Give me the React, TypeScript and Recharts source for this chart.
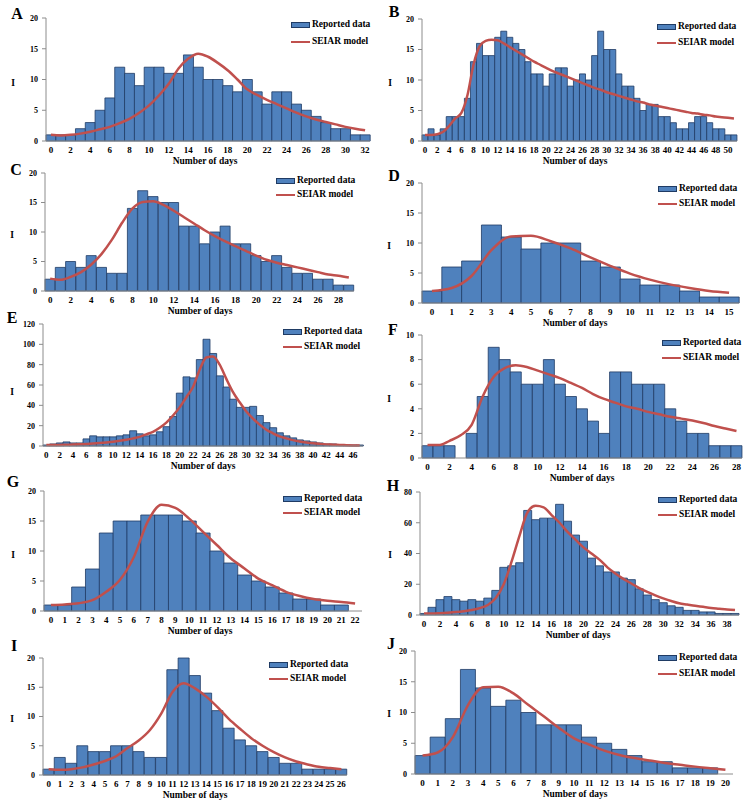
import React from 'react';
import { ComposedChart, Bar, Line, XAxis, YAxis } from 'recharts';

const FONT = "'Liberation Serif','Times New Roman',serif";
const BLUE = '#4f81bd';
const BAR_STROKE = '#1f3b64';
const RED = '#c0504d';
const AXIS = '#8c8c8c';

// Panel A
const daysA = [0,1,2,3,4,5,6,7,8,9,10,11,12,13,14,15,16,17,18,19,20,21,22,23,24,25,26,27,28,29,30,31,32];
const reportedA = [1,1,1,2,3,5,7,12,11,9,12,12,11,11,14,12,10,10,9,8,10,8,6,8,8,6,5,4,3,2,2,1,1];
const modelA = [1,0.9,1,1.2,1.5,1.9,2.3,2.9,3.6,4.6,5.8,7.4,9.3,11.8,13.4,14.2,13.7,12.7,11.5,10,8.4,7.5,6.7,6,5.3,4.6,4,3.5,3.1,2.7,2.3,2,1.75];

// Panel B
const daysB = [0,1,2,3,4,5,6,7,8,9,10,11,12,13,14,15,16,17,18,19,20,21,22,23,24,25,26,27,28,29,30,31,32,33,34,35,36,37,38,39,40,41,42,43,44,45,46,47,48,49,50,51];
const reportedB = [1,2,1,2,4,4,4,7,13,16,14,14,17,18,17,16,15,13,11,11,9,11,12,12,9,10,11,10,14,18,15,15,11,9,9,7,5,6,6,4,4,3,2,2,3,4,4,3,2,2,1,1];
const modelB = [1,1,1.1,1.5,2.5,3.7,4.6,7.5,12.5,15.5,16.4,16.6,16.5,16,15.4,14.8,14.2,13.6,13,12.5,12,11.5,11.1,10.7,10.3,9.9,9.5,9.1,8.7,8.4,8,7.7,7.4,7.1,6.8,6.5,6.3,6,5.8,5.6,5.4,5.2,5,4.8,4.6,4.5,4.3,4.2,4,3.9,3.8,3.7];

// Panel C
const daysC = [0,1,2,3,4,5,6,7,8,9,10,11,12,13,14,15,16,17,18,19,20,21,22,23,24,25,26,27,28,29];
const reportedC = [2,4,5,4,6,4,3,3,14,17,16,15,15,11,11,8,10,11,8,8,6,5,6,4,3,3,2,2,1,1];
const modelC = [2.1,1.9,2.4,3.2,4.5,6.3,8.7,11.6,14,15.1,15.2,14.6,13.6,12.5,11.4,10.3,9.3,8.4,7.6,6.8,6,5.3,4.8,4.4,4,3.6,3.2,2.8,2.6,2.3];

// Panel D
const daysD = [0,1,2,3,4,5,6,7,8,9,10,11,12,13,14,15];
const reportedD = [2,6,7,13,11,9,10,10,7,6,4,3,3,2,1,1];
const modelD = [2,2.5,4.5,8.8,11.1,11.2,10.3,9.1,7.6,6.2,4.9,3.9,3.1,2.5,2,1.7];

// Panel E
const daysE = [0,1,2,3,4,5,6,7,8,9,10,11,12,13,14,15,16,17,18,19,20,21,22,23,24,25,26,27,28,29,30,31,32,33,34,35,36,37,38,39,40,41,42,43,44,45,46,47];
const reportedE = [1,2,3,4,3,3,7,10,9,9,9,10,11,15,12,10,11,14,19,29,52,68,67,85,105,91,69,58,46,38,38,39,30,23,18,13,10,8,6,5,4,3,2,2,1,1,1,1];
const modelE = [1,1,1,1.2,1.4,1.7,2,2.4,2.9,3.5,4.2,5.1,6.2,7.5,9,11.5,14,18,23,30,38,48,58,75,87,88,80,66,53,43,34,27,21,16,12.5,9.5,7.5,5.8,4.5,3.5,2.7,2.1,1.6,1.3,1,0.8,0.6,0.5];

// Panel F
const daysF = [0,1,2,3,4,5,6,7,8,9,10,11,12,13,14,15,16,17,18,19,20,21,22,23,24,25,26,27,28];
const reportedF = [1,1,1,0,2,5,9,8,7,6,6,8,6,5,4,3,2,7,7,6,6,6,4,3,2,2,1,1,1];
const modelF = [1.05,1.05,1.4,1.85,2.7,5,6.6,7.3,7.55,7.4,7.1,6.8,6.5,6.1,5.7,5.2,4.8,4.5,4.2,4,3.75,3.55,3.35,3.2,3.05,2.85,2.6,2.4,2.2];

// Panel G
const daysG = [0,1,2,3,4,5,6,7,8,9,10,11,12,13,14,15,16,17,18,19,20,21,22];
const reportedG = [1,1,4,7,13,15,15,16,16,16,15,13,10,8,6,5,4,3,2,2,1,1,0];
const modelG = [1,1.1,1.3,1.8,3.2,5.2,9,14.9,17.7,17.2,15.4,13.2,11,8.8,7.1,5.4,4.3,3.2,2.5,2,1.7,1.5,1.25];

// Panel H
const daysH = [0,1,2,3,4,5,6,7,8,9,10,11,12,13,14,15,16,17,18,19,20,21,22,23,24,25,26,27,28,29,30,31,32,33,34,35,36,37,38,39];
const reportedH = [1,5,10,12,10,9,10,9,11,16,31,32,34,68,62,63,63,72,61,52,48,37,32,28,28,24,23,17,13,10,8,6,5,3,3,2,2,1,1,1];
const modelH = [1,1,1.2,1.5,1.9,2.5,3.3,4.5,6.5,11,20,35,52,67,71,70,65,60,54,49,44,40,36,31,27,23.5,20.5,17.5,15,12.8,10.8,9.1,7.6,6.8,6,5.3,4.6,4.1,3.6,3.2];

// Panel I
const daysI = [0,1,2,3,4,5,6,7,8,9,10,11,12,13,14,15,16,17,18,19,20,21,22,23,24,25,26];
const reportedI = [1,3,2,5,4,4,5,5,4,3,3,18,20,17,14,11,8,6,5,4,3,2,2,1,1,1,1];
const modelI = [1,0.9,1,1.3,1.8,2.4,3.2,4.6,5.9,7.7,10.5,14.2,15.7,14.8,13.4,11.6,9.6,7.9,6.3,5,3.9,3,2.3,1.8,1.4,1.2,1];

// Panel J
const daysJ = [0,1,2,3,4,5,6,7,8,9,10,11,12,13,14,15,16,17,18,19,20];
const reportedJ = [3,6,9,17,14,11,12,10,8,8,8,6,5,4,3,2,2,1,1,1,0];
const modelJ = [3,3.5,6,11.2,14.1,14.2,13.1,11.2,9.4,7.5,5.8,4.8,3.8,3.1,2.6,2.2,1.8,1.5,1.2,0.95,0.7];

const ticks20 = [0,5,10,15,20];
const ticks120 = [0,20,40,60,80,100,120];
const ticks10 = [0,2,4,6,8,10];
const ticks80 = [0,20,40,60,80];

const LEGEND_REPORTED = 'Reported data';
const LEGEND_MODEL = 'SEIAR model';
const X_TITLE = 'Number of days';
const Y_TITLE = 'I';

type P = {
  letter: string; days: number[]; reported: number[]; model: number[];
  yMax: number; yTicks: number[]; interval: number;
  plot: [number, number, number, number];
  letterPos: [number, number]; iPos: [number, number]; titlePos: [number, number];
  legend: [number, number, number];
};

const panels: P[] = [
  { letter: 'A', days: daysA, reported: reportedA, model: modelA, yMax: 20, yTicks: ticks20, interval: 1,
    plot: [46, 18, 370, 141], letterPos: [17, 14], iPos: [13, 84], titlePos: [205, 162], legend: [291, 25, 42] },
  { letter: 'B', days: daysB, reported: reportedB, model: modelB, yMax: 20, yTicks: ticks20, interval: 1,
    plot: [422, 19, 737, 141], letterPos: [394, 12], iPos: [390, 84], titlePos: [575, 162], legend: [657, 27, 43] },
  { letter: 'C', days: daysC, reported: reportedC, model: modelC, yMax: 20, yTicks: ticks20, interval: 1,
    plot: [45, 173, 354, 291], letterPos: [16, 170], iPos: [12, 236], titlePos: [200, 312], legend: [276, 181, 195] },
  { letter: 'D', days: daysD, reported: reportedD, model: modelD, yMax: 20, yTicks: ticks20, interval: 0,
    plot: [422, 183, 739, 303], letterPos: [394, 176], iPos: [389, 247], titlePos: [575, 324], legend: [658, 189, 204] },
  { letter: 'E', days: daysE, reported: reportedE, model: modelE, yMax: 120, yTicks: ticks120, interval: 1,
    plot: [43, 324, 363, 446], letterPos: [12, 318], iPos: [12, 393], titlePos: [203, 467], legend: [283, 332, 347] },
  { letter: 'F', days: daysF, reported: reportedF, model: modelF, yMax: 10, yTicks: ticks10, interval: 1,
    plot: [422, 335, 742, 458], letterPos: [393, 330], iPos: [389, 400], titlePos: [582, 479], legend: [662, 343, 358] },
  { letter: 'G', days: daysG, reported: reportedG, model: modelG, yMax: 20, yTicks: ticks20, interval: 0,
    plot: [44, 491, 362, 611], letterPos: [13, 482], iPos: [13, 556], titlePos: [200, 632], legend: [283, 499, 513] },
  { letter: 'H', days: daysH, reported: reportedH, model: modelH, yMax: 80, yTicks: ticks80, interval: 1,
    plot: [420, 492, 739, 615], letterPos: [393, 486], iPos: [390, 556], titlePos: [578, 636], legend: [658, 500, 515] },
  { letter: 'I', days: daysI, reported: reportedI, model: modelI, yMax: 20, yTicks: ticks20, interval: 0,
    plot: [43, 658, 347, 775], letterPos: [14, 646], iPos: [12, 720], titlePos: [195, 796], legend: [269, 665, 679] },
  { letter: 'J', days: daysJ, reported: reportedJ, model: modelJ, yMax: 20, yTicks: ticks20, interval: 0,
    plot: [415, 651, 733, 774], letterPos: [391, 644], iPos: [389, 715], titlePos: [575, 795], legend: [658, 658, 674] },
];

const centered = (x: number, y: number, size: number, text: string) => (
  <div style={{ position: 'absolute', left: x, top: y, transform: 'translate(-50%,-50%)', fontFamily: FONT,
    fontWeight: 700, fontSize: size, lineHeight: 1, whiteSpace: 'nowrap', color: '#000' }}>{text}</div>
);

const leftText = (x: number, y: number, size: number, text: string) => (
  <div style={{ position: 'absolute', left: x, top: y, transform: 'translateY(-50%)', fontFamily: FONT,
    fontWeight: 700, fontSize: size, lineHeight: 1, whiteSpace: 'nowrap', color: '#000' }}>{text}</div>
);

function Panel({ p }: { p: P }) {
  const data = p.days.map((d, i) => ({ day: d, reported: p.reported[i], model: p.model[i] }));
  const [L, T, R, B] = p.plot;
  const cx = L - 35, cy = T - 5, cw = R - L + 40, ch = B - T + 30;
  const [lx, ly1, ly2] = p.legend;
  return (
    <>
      <div style={{ position: 'absolute', left: cx, top: cy }}>
        <ComposedChart width={cw} height={ch} data={data} margin={{ left: 5, top: 5, right: 5, bottom: 5 }}
          barCategoryGap={0} barGap={0}>
          <XAxis dataKey="day" interval={p.interval} tickLine={false} axisLine={{ stroke: AXIS }} height={20}
            tickSize={6} tickMargin={0}
            tick={{ fontSize: 9, fontWeight: 700, fill: '#000', fontFamily: FONT }} />
          <YAxis type="number" domain={[0, p.yMax]} ticks={p.yTicks} width={30} tickSize={4} tickMargin={4}
            axisLine={{ stroke: AXIS }} tickLine={{ stroke: AXIS }}
            tick={{ fontSize: 8, fontWeight: 700, fill: '#000', fontFamily: FONT }} />
          <Bar dataKey="reported" fill={BLUE} stroke={BAR_STROKE} strokeWidth={0.8} isAnimationActive={false} />
          <Line type="monotone" dataKey="model" stroke={RED} strokeWidth={2.5} dot={false} activeDot={false}
            isAnimationActive={false} />
        </ComposedChart>
      </div>
      <div style={{ position: 'absolute', left: lx, top: ly1 - 3, width: 19, height: 6, background: BLUE,
        border: `1px solid ${BAR_STROKE}`, boxSizing: 'border-box' }} />
      <div style={{ position: 'absolute', left: lx, top: ly2 - 1.25, width: 19, height: 2.5, background: RED }} />
      {leftText(lx + 21, ly1, 9.5, LEGEND_REPORTED)}
      {leftText(lx + 21, ly2, 9.5, LEGEND_MODEL)}
      {centered(p.letterPos[0], p.letterPos[1], 16, p.letter)}
      {centered(p.iPos[0], p.iPos[1], 9.5, Y_TITLE)}
      {centered(p.titlePos[0], p.titlePos[1], 9.5, X_TITLE)}
    </>
  );
}

export default function App() {
  return (
    <div style={{ position: 'absolute', left: 0, top: 0, width: 750, height: 807, background: '#fff', overflow: 'hidden' }}>
      {panels.map((p) => <Panel key={p.letter} p={p} />)}
    </div>
  );
}
